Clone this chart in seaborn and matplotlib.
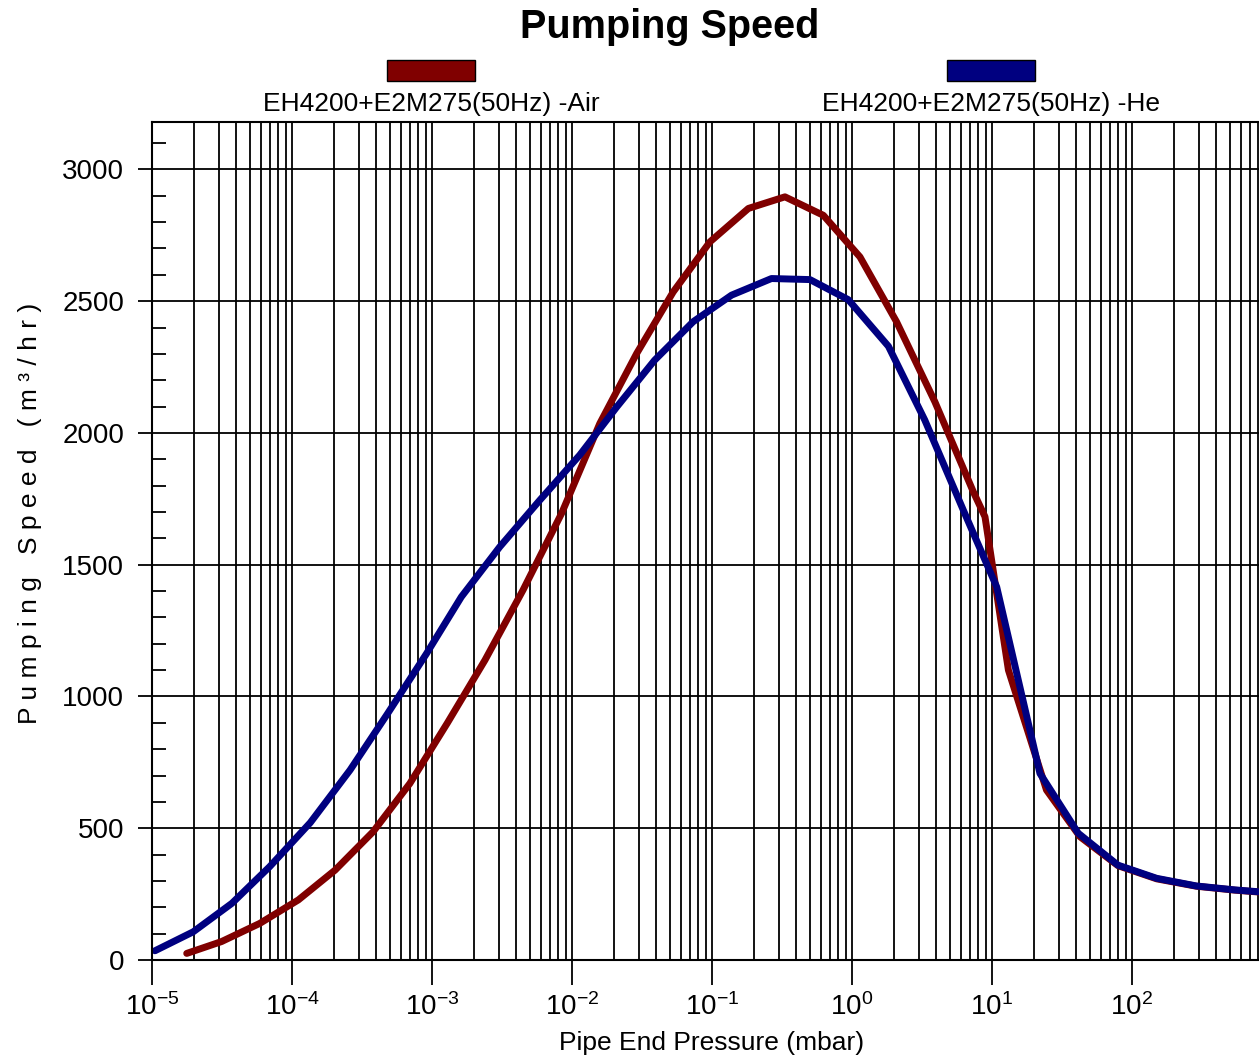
import numpy as np
import pandas as pd
import matplotlib
matplotlib.use("Agg")
import matplotlib.pyplot as plt
import seaborn as sns
from matplotlib.patches import Rectangle
from matplotlib.ticker import FixedLocator, LogLocator, MultipleLocator, NullFormatter

# ---------------- data ----------------
air_pressure = [1.77e-5, 3.14e-5, 5.89e-5, 1.11e-4, 2.03e-4, 3.80e-4, 6.95e-4,
                1.29e-3, 2.39e-3, 4.47e-3, 8.43e-3, 1.58e-2, 2.90e-2, 5.28e-2,
                9.66e-2, 0.182, 0.332, 0.624, 1.14, 2.08, 3.91, 7.35, 8.91,
                13.1, 24.5, 42.5, 79.4, 150, 288, 543, 1000]
air_speed = [25, 70, 139, 228, 341, 487, 670, 900, 1138, 1404, 1695, 2036,
             2302, 2535, 2725, 2852, 2896, 2826, 2668, 2422, 2118, 1777, 1682,
             1100, 645, 468, 358, 308, 280, 265, 254]

he_pressure = [1.05e-5, 1.97e-5, 3.72e-5, 6.92e-5, 1.35e-4, 2.60e-4, 4.79e-4,
               9.12e-4, 1.62e-3, 3.05e-3, 5.89e-3, 1.135e-2, 2.09e-2, 3.89e-2,
               7.33e-2, 0.138, 0.266, 0.501, 0.94, 1.82, 3.31, 6.24, 10.8,
               22.0, 41.3, 79.4, 150, 288, 543, 1000]
he_speed = [35, 107, 215, 354, 521, 721, 933, 1162, 1378, 1568, 1745, 1916,
            2099, 2276, 2422, 2523, 2586, 2582, 2506, 2329, 2049, 1707, 1416,
            708, 481, 360, 310, 281, 266, 255]

series_names = ["EH4200+E2M275(50Hz) -Air", "EH4200+E2M275(50Hz) -He"]
series_colors = ["#800000", "#000080"]

x_major_ticks = [1e-5, 1e-4, 1e-3, 1e-2, 1e-1, 1e0, 1e1, 1e2]
x_tick_labels = ["$10^{-5}$", "$10^{-4}$", "$10^{-3}$", "$10^{-2}$",
                 "$10^{-1}$", "$10^{0}$", "$10^{1}$", "$10^{2}$"]

title_text = "Pumping Speed"
x_label = "Pipe End Pressure (mbar)"
y_label = "P u m p i n g   S p e e d   ( m ³ / h r )"

df = pd.concat([
    pd.DataFrame({"pressure": air_pressure, "speed": air_speed, "series": series_names[0]}),
    pd.DataFrame({"pressure": he_pressure, "speed": he_speed, "series": series_names[1]}),
], ignore_index=True)

# ---------------- style ----------------
sns.set_style("white")
plt.rcParams["font.family"] = ["Liberation Sans", "DejaVu Sans"]
plt.rcParams["mathtext.fontset"] = "custom"
plt.rcParams["mathtext.rm"] = "Liberation Sans"
plt.rcParams["mathtext.it"] = "Liberation Sans:italic"
plt.rcParams["mathtext.bf"] = "Liberation Sans:bold"
plt.rcParams["text.color"] = "black"
plt.rcParams["axes.labelcolor"] = "black"
plt.rcParams["xtick.color"] = "black"
plt.rcParams["ytick.color"] = "black"

W, H = 1259, 1059
fig = plt.figure(figsize=(W / 100, H / 100), dpi=100)
ax = fig.add_axes([152 / W, (H - 960) / H, 1120 / W, 838 / H])

sns.lineplot(data=df, x="pressure", y="speed", hue="series",
             hue_order=series_names, palette=series_colors,
             estimator=None, sort=False, linewidth=5.0, legend=False, ax=ax)

ax.set_xscale("log")
ax.set_xlim(1e-5, 1e3)
ax.set_ylim(0, 3180)

ax.xaxis.set_major_locator(FixedLocator(x_major_ticks))
ax.set_xticklabels(x_tick_labels)
ax.xaxis.set_minor_locator(LogLocator(base=10, subs=np.arange(2, 10), numticks=200))
ax.xaxis.set_minor_formatter(NullFormatter())
ax.yaxis.set_major_locator(MultipleLocator(500))
ax.yaxis.set_minor_locator(MultipleLocator(100))

ax.grid(False)
ax.grid(True, which="both", axis="x", color="black", linewidth=1.3)
ax.grid(True, which="major", axis="y", color="black", linewidth=1.3)
ax.set_axisbelow(True)

ax.tick_params(axis="x", which="major", direction="out", length=18, width=1.3,
               labelsize=20, pad=6, bottom=True, top=False, color="black",
               labelcolor="black")
ax.tick_params(axis="x", which="minor", length=0, bottom=False, top=False)
ax.tick_params(axis="y", which="major", direction="out", length=10, width=1.3,
               labelsize=20, pad=10, left=True, right=False, color="black",
               labelcolor="black")
ax.tick_params(axis="y", which="minor", direction="in", length=10, width=1.3,
               left=True, right=False, color="black")

for side in ["left", "bottom", "top"]:
    ax.spines[side].set_visible(True)
    ax.spines[side].set_linewidth(1.5)
    ax.spines[side].set_color("black")
ax.spines["right"].set_visible(False)

ax.set_xlabel(x_label, fontsize=19, va="center", color="black")
ax.xaxis.set_label_coords(0.5, -0.099)
ax.set_ylabel(y_label, fontsize=19, va="center", color="black")
ax.yaxis.set_label_coords(-0.109, 0.533)

# title
fig.text(670 / W, 1 - 27 / H, title_text, fontsize=28.5, fontweight="bold",
         ha="center", va="center", color="black")

# legend (swatch above label)
legend_centers = [431, 991]
for name, color, cx in zip(series_names, series_colors, legend_centers):
    fig.add_artist(Rectangle(((cx - 44) / W, 1 - 81 / H), 88 / W, 21 / H,
                             transform=fig.transFigure, facecolor=color,
                             edgecolor="black", linewidth=1.0))
    fig.text(cx / W, 1 - 104 / H, name, fontsize=19, ha="center", va="center",
             color="black")

fig.savefig("out.png", dpi=100)
